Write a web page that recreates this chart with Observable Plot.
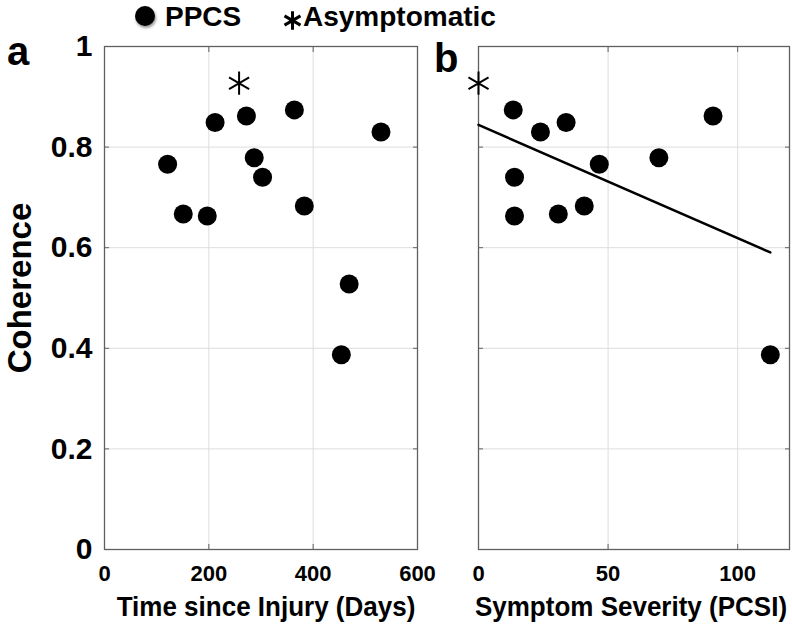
<!DOCTYPE html>
<html>
<head>
<meta charset="utf-8">
<script src="https://cdn.jsdelivr.net/npm/d3@7"></script>
<script src="https://cdn.jsdelivr.net/npm/@observablehq/plot@0.6"></script>
<style>
  body { margin: 0; background: #fff; }
  #wrap { position: relative; width: 792px; height: 628px; overflow: hidden; background: #fff;
          font-family: "Liberation Sans", Arial, sans-serif; font-weight: bold; color: #000; }
  #pa, #pb { position: absolute; top: 0; }
  #pa { left: 0; }
  #pb { left: 440px; }
  .txt { position: absolute; line-height: 1; white-space: nowrap; }
  .panel { font-size: 40px; }
  .leg { font-size: 28px; }
  .xt { font-size: 26px; top: 593px; transform: translateX(-50%) scaleY(1.08); }
  .yt { font-size: 33px; left: 19px; top: 288px; transform: translate(-50%, -50%) rotate(-90deg); }
  #dotsw { position: absolute; left: 135px; top: 6px; width: 20px; height: 20px; border-radius: 50%;
           background: #000; box-shadow: 1px 2px 3px rgba(0,0,0,0.45); }
  #astsw { position: absolute; left: 283px; top: 11px; }
  svg [aria-label="x-axis tick label"] { font-size: 22px; font-weight: bold; }
  svg [aria-label="y-axis tick label"] { font-size: 30px; font-weight: bold; }
</style>
</head>
<body>
<div id="wrap">
  <div id="pa"></div>
  <div id="pb"></div>
  <div class="txt panel" style="left:7px;top:31px;">a</div>
  <div class="txt panel" style="left:434px;top:38px;">b</div>
  <div id="dotsw"></div>
  <div class="txt leg" style="left:165px;top:3px;" id="legA"></div>
  <svg id="astsw" width="19" height="19"></svg>
  <div class="txt leg" style="left:303px;top:3px;" id="legB"></div>
  <div class="txt xt" style="left:266px;" id="xtA"></div>
  <div class="txt xt" style="left:631px;" id="xtB"></div>
  <div class="txt yt" id="yt"></div>
</div>
<script>
// ---- data ----
const daysSinceInjury = [121, 151, 197, 212, 272, 287, 303, 364, 383, 454, 469, 530];
const coherence       = [0.766, 0.667, 0.663, 0.849, 0.862, 0.779, 0.740, 0.874, 0.683, 0.387, 0.528, 0.830];
const pcsi            = [46.6, 30.8, 13.9, 33.8, 90.5, 69.6, 13.9, 13.4, 40.8, 112.6, null, 23.9];

const asymDays = [258];
const asymPcsi = [0];
const asymCoherence = [0.927];

const xTicksA = [0, 200, 400, 600];
const xTicksB = [0, 50, 100];
const yTicks = [0, 0.2, 0.4, 0.6, 0.8, 1];

const xLabelA = "Time since Injury (Days)";
const xLabelB = "Symptom Severity (PCSI)";
const yLabel = "Coherence";
const legendLabels = ["PPCS", "Asymptomatic"];

// ---- tables built from arrays ----
const ppcs = daysSinceInjury.map((d, i) => ({days: d, coherence: coherence[i], pcsi: pcsi[i]}));
const ppcsB = ppcs.filter(d => d.pcsi != null);
const asym = asymDays.map((d, i) => ({days: d, pcsi: asymPcsi[i], coherence: asymCoherence[i]}));
const regData = ppcsB.concat(asym);

const FONT = '"Liberation Sans", Arial, sans-serif';
const GRID = "#dddddd";
const FRAME = "#606060";
const blank = () => "";

const A = Plot.plot({
  width: 422, height: 628,
  marginLeft: 104, marginRight: 5, marginTop: 46, marginBottom: 79,
  style: {fontFamily: FONT, fontWeight: "bold", background: "white", overflow: "visible", color: "black"},
  x: {domain: [0, 600]},
  y: {domain: [0, 1]},
  marks: [
    Plot.gridX(xTicksA, {stroke: GRID, strokeOpacity: 1}),
    Plot.gridY(yTicks, {stroke: GRID, strokeOpacity: 1}),
    Plot.frame({stroke: FRAME, strokeWidth: 1.3}),
    Plot.axisX(xTicksA, {anchor: "bottom", tickSize: 0, tickPadding: 16, tickFormat: d => String(d), label: null}),
    Plot.axisX(xTicksA, {anchor: "bottom", tickSize: -5, tickFormat: blank, label: null, stroke: FRAME}),
    Plot.axisX(xTicksA, {anchor: "top", tickSize: -5, tickFormat: blank, label: null, stroke: FRAME}),
    Plot.axisY(yTicks, {anchor: "left", tickSize: 0, tickPadding: 12, tickFormat: d => String(d), label: null}),
    Plot.axisY(yTicks, {anchor: "left", tickSize: -5, tickFormat: blank, label: null, stroke: FRAME}),
    Plot.axisY(yTicks, {anchor: "right", tickSize: -5, tickFormat: blank, label: null, stroke: FRAME}),
    Plot.dot(ppcs, {x: "days", y: "coherence", r: 9.5, fill: "black", stroke: null}),
    Plot.dot(asym, {x: "days", y: "coherence", symbol: "asterisk", r: 11, stroke: "black", strokeWidth: 2})
  ]
});
document.getElementById("pa").appendChild(A);

const B = Plot.plot({
  width: 352, height: 628,
  marginLeft: 38, marginRight: 3, marginTop: 46, marginBottom: 79,
  style: {fontFamily: FONT, fontWeight: "bold", background: "white", overflow: "visible", color: "black"},
  x: {domain: [0, 120]},
  y: {domain: [0, 1]},
  marks: [
    Plot.gridX(xTicksB, {stroke: GRID, strokeOpacity: 1}),
    Plot.gridY(yTicks, {stroke: GRID, strokeOpacity: 1}),
    Plot.frame({stroke: FRAME, strokeWidth: 1.3}),
    Plot.axisX(xTicksB, {anchor: "bottom", tickSize: 0, tickPadding: 16, tickFormat: d => String(d), label: null}),
    Plot.axisX(xTicksB, {anchor: "bottom", tickSize: -5, tickFormat: blank, label: null, stroke: FRAME}),
    Plot.axisX(xTicksB, {anchor: "top", tickSize: -5, tickFormat: blank, label: null, stroke: FRAME}),
    Plot.axisY(yTicks, {anchor: "left", tickSize: -5, tickFormat: blank, label: null, stroke: FRAME}),
    Plot.axisY(yTicks, {anchor: "right", tickSize: -5, tickFormat: blank, label: null, stroke: FRAME}),
    Plot.linearRegressionY(regData, {x: "pcsi", y: "coherence", ci: 0, stroke: "black", strokeWidth: 2.5}),
    Plot.dot(ppcsB, {x: "pcsi", y: "coherence", r: 9.5, fill: "black", stroke: null}),
    Plot.dot(asym, {x: "pcsi", y: "coherence", symbol: "asterisk", r: 11, stroke: "black", strokeWidth: 2})
  ]
});
document.getElementById("pb").appendChild(B);

// titles and legend text
document.getElementById("xtA").textContent = xLabelA;
document.getElementById("xtB").textContent = xLabelB;
document.getElementById("yt").textContent = yLabel;
document.getElementById("legA").textContent = legendLabels[0];
document.getElementById("legB").textContent = legendLabels[1];

// legend asterisk swatch
d3.select("#astsw").append("path")
  .attr("transform", "translate(9.5,9.5)")
  .attr("d", d3.symbol(d3.symbolAsterisk, 240)())
  .attr("stroke", "black").attr("stroke-width", 3).attr("fill", "none");
</script>
</body>
</html>
